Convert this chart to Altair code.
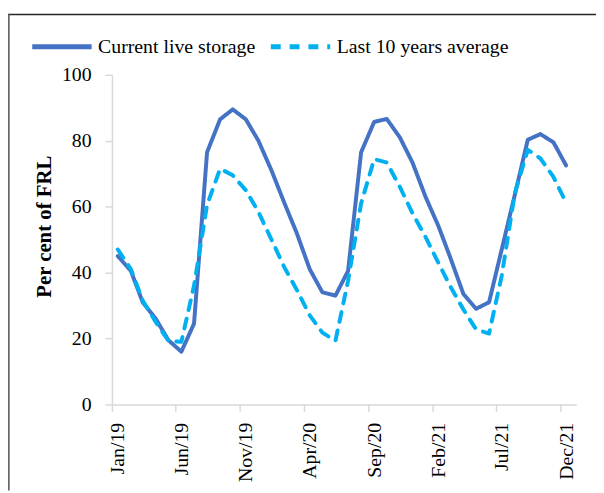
import altair as alt
import pandas as pd

# ---- data ----
years = [2019, 2020, 2021]
month_numbers = list(range(1, 13))

current = [45, 40.5, 31, 26, 19.5, 16, 24.5, 76.5, 86.5, 89.5, 86.5, 80,
           71, 61, 52, 41, 34, 33, 40.5, 76.5, 85.7, 86.6, 81, 73.4,
           63, 54, 44.5, 33.5, 29, 31, 47, 63.5, 80.3, 82, 79.5, 72.5]
average = [47, 41, 31.5, 25, 19.3, 19, 36, 60.5, 71.5, 69.5, 65, 58.4,
           50, 41.5, 34.8, 27, 21.8, 19.3, 37.5, 61, 74.4, 73.4, 66, 58,
           50.8, 42.8, 35.8, 28.8, 22.8, 21.5, 39, 64, 77.2, 74.6, 69, 61.2]

series_names = ["Current live storage", "Last 10 years average"]
series_colors = ["#4472C4", "#00B0F0"]
tick_labels = ["Jan/19", "Jun/19", "Nov/19", "Apr/20", "Sep/20", "Feb/21", "Jul/21", "Dec/21"]
y_ticks = [0, 20, 40, 60, 80, 100]
y_title = "Per cent of FRL"

# ---- build table ----
dates = [f"{y}-{m:02d}-15" for y in years for m in month_numbers]
df = pd.DataFrame({
    "date": dates * 2,
    "series": [series_names[0]] * len(current) + [series_names[1]] * len(average),
    "value": current + average,
})

abbr = ["Jan", "Feb", "Mar", "Apr", "May", "Jun", "Jul", "Aug", "Sep", "Oct", "Nov", "Dec"]
tick_values = [
    alt.DateTime(year=2000 + int(t.split("/")[1]), month=abbr.index(t.split("/")[0]) + 1, date=1, utc=True)
    for t in tick_labels
]

FONT = "Liberation Serif"

lines = alt.Chart(df).mark_line(strokeWidth=4, strokeCap="round", strokeJoin="round").encode(
    x=alt.X(
        "date:T",
        scale=alt.Scale(
            type="utc",
            domain=[alt.DateTime(year=2019, month=1, date=1, utc=True),
                    alt.DateTime(year=2022, month=1, date=8, utc=True)],
        ),
        axis=alt.Axis(
            values=tick_values,
            labelExpr="utcFormat(datum.value, '%b/%y')",
            labelAngle=270,
            labelAlign="right",
            labelBaseline="middle",
            labelPadding=11,
            labelOffset=6,
            tickSize=7,
            grid=False,
            title=None,
        ),
    ),
    y=alt.Y(
        "value:Q",
        scale=alt.Scale(domain=[0, 100], nice=False),
        axis=alt.Axis(
            values=y_ticks,
            tickSize=7,
            labelPadding=14,
            grid=False,
            title=y_title,
            titleFont=FONT,
            titleFontSize=21,
            titleFontWeight="bold",
            titleColor="black",
            titleAngle=270,
            titleX=-68,
            titleY=153,
            titleAlign="center",
            titleBaseline="middle",
        ),
    ),
    color=alt.Color("series:N", scale=alt.Scale(domain=series_names, range=series_colors),
                    sort=series_names, title=None),
    strokeDash=alt.StrokeDash("series:N", scale=alt.Scale(domain=series_names, range=[[1, 0], [10, 9]]),
                              sort=series_names, title=None),
)

frame = pd.DataFrame({"k": [0]})
top_line = alt.Chart(frame).mark_rule(color="#262626", strokeWidth=1.5).encode(
    x=alt.value(-105), x2=alt.value(500), y=alt.value(-61)
)
left_line = alt.Chart(frame).mark_rule(color="#666666", strokeWidth=2).encode(
    x=alt.value(-104.3), y=alt.value(-61), y2=alt.value(420)
)

chart = alt.layer(lines, top_line, left_line).properties(
    width=469,
    height=333,
    autosize=alt.AutoSizeParams(type="none"),
    padding={"left": 105, "top": 65, "right": 20, "bottom": 85},
).configure_view(
    strokeWidth=0
).configure_axis(
    domainColor="#d9d9d9",
    domainWidth=1.5,
    tickColor="#d9d9d9",
    tickWidth=1.5,
    labelFont=FONT,
    labelFontSize=20,
    labelColor="black",
).configure_legend(
    orient="none",
    legendX=-83,
    legendY=-61,
    direction="horizontal",
    symbolType="stroke",
    symbolSize=3600,
    symbolStrokeWidth=5,
    labelFont=FONT,
    labelFontSize=20,
    labelColor="black",
    labelOffset=4,
    labelLimit=400,
    columnPadding=5,
    padding=0,
)

chart.save("out.html", embed_options={"renderer": "svg", "actions": False})
